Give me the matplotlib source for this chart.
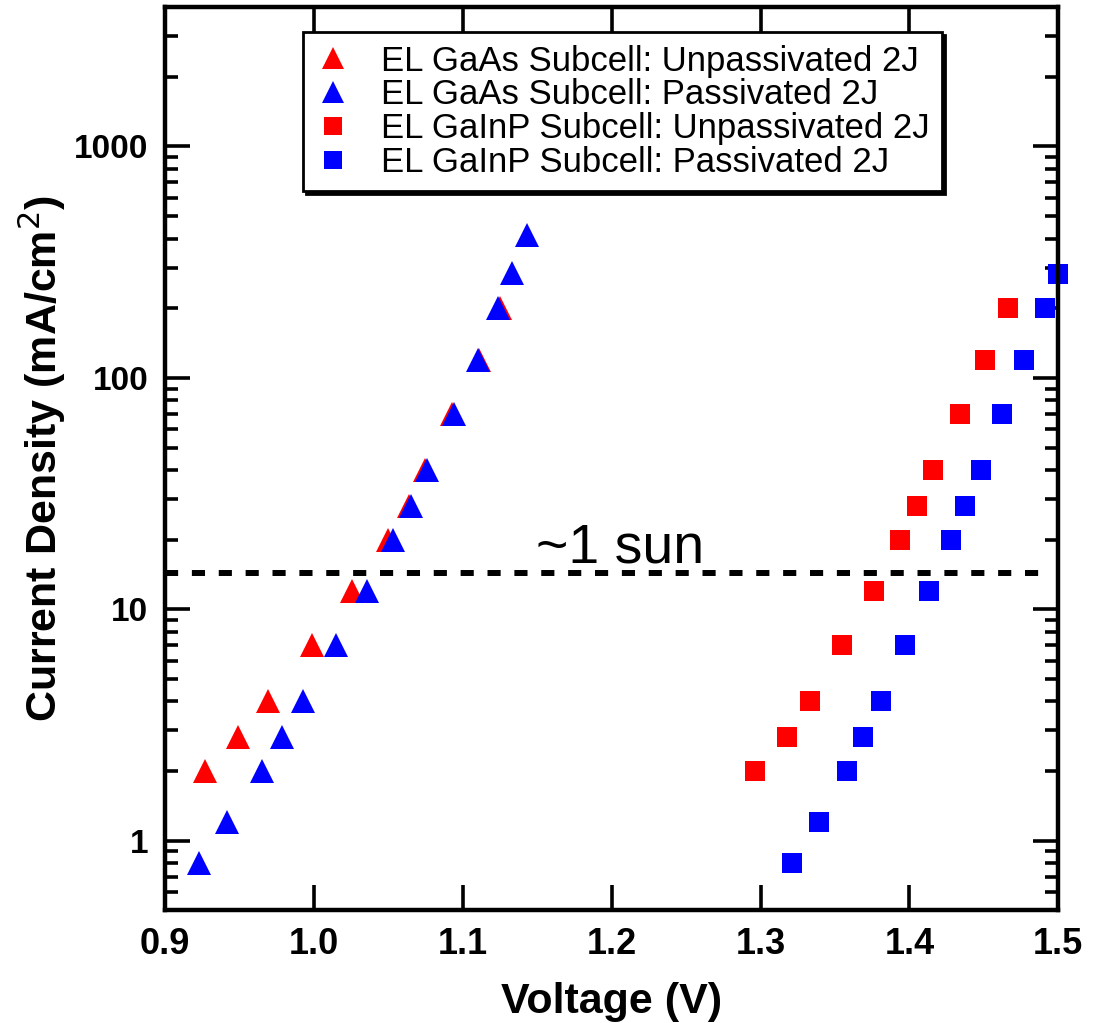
import matplotlib
matplotlib.use('Agg')
import matplotlib.pyplot as plt
from matplotlib.ticker import FixedLocator, LogLocator, NullFormatter, NullLocator
import numpy as np

plt.rcParams['font.family'] = ['Liberation Sans', 'DejaVu Sans']

# GaAs subcell EL (triangles)
gaas_unpass_v = [0.927, 0.949, 0.969, 0.999, 1.026, 1.050, 1.064, 1.075, 1.093, 1.111, 1.125]
gaas_unpass_j = [2.0, 2.8, 4.0, 7.0, 12.0, 20.0, 28.0, 40.0, 70.0, 120.0, 200.0]
gaas_pass_v = [0.923, 0.942, 0.965, 0.979, 0.993, 1.015, 1.036, 1.053, 1.065, 1.076,
               1.094, 1.110, 1.124, 1.133, 1.143]
gaas_pass_j = [0.8, 1.2, 2.0, 2.8, 4.0, 7.0, 12.0, 20.0, 28.0, 40.0,
               70.0, 120.0, 200.0, 285.0, 415.0]

# GaInP subcell EL (squares)
gainp_unpass_v = [1.296, 1.318, 1.333, 1.355, 1.376, 1.394, 1.405, 1.416, 1.434, 1.451, 1.466]
gainp_unpass_j = [2.0, 2.8, 4.0, 7.0, 12.0, 20.0, 28.0, 40.0, 70.0, 120.0, 200.0]
gainp_pass_v = [1.321, 1.339, 1.358, 1.369, 1.381, 1.397, 1.413, 1.428, 1.437, 1.448,
                1.462, 1.477, 1.491, 1.500]
gainp_pass_j = [0.8, 1.2, 2.0, 2.8, 4.0, 7.0, 12.0, 20.0, 28.0, 40.0,
                70.0, 120.0, 200.0, 280.0]

one_sun_j = 14.3
x_ticks = [0.9, 1.0, 1.1, 1.2, 1.3, 1.4, 1.5]
y_ticks = [1, 10, 100, 1000]

fig = plt.figure(figsize=(10.99, 10.23), dpi=100)
ax = fig.add_axes([0.150, 0.110, 0.813, 0.883])

ax.plot(gaas_unpass_v, gaas_unpass_j, '^', color='#ff0000', ms=17, mew=0, clip_on=False,
        label='EL GaAs Subcell: Unpassivated 2J')
ax.plot(gaas_pass_v, gaas_pass_j, '^', color='#0000ff', ms=17, mew=0, clip_on=False,
        label='EL GaAs Subcell: Passivated 2J')
ax.plot(gainp_unpass_v, gainp_unpass_j, 's', color='#ff0000', ms=15, mew=0, clip_on=False,
        label='EL GaInP Subcell: Unpassivated 2J')
ax.plot(gainp_pass_v, gainp_pass_j, 's', color='#0000ff', ms=15, mew=0, clip_on=False,
        label='EL GaInP Subcell: Passivated 2J')

ax.plot([0.9, 1.492], [one_sun_j, one_sun_j], color='black', lw=4.3,
        linestyle=(0, (2.2, 2.3)), dash_capstyle='butt')
ax.text(1.2055, 15.9, '~1 sun', fontsize=40, ha='center', va='baseline')

ax.set_yscale('log')
ax.set_xlim(0.9, 1.5)
ax.set_ylim(0.5, 4000)

ax.xaxis.set_major_locator(FixedLocator(x_ticks))
ax.xaxis.set_minor_locator(NullLocator())
ax.set_xticklabels([f'{t:.1f}' for t in x_ticks])
ax.yaxis.set_major_locator(FixedLocator(y_ticks))
ax.set_yticklabels([str(t) for t in y_ticks])
ax.yaxis.set_minor_locator(LogLocator(base=10, subs=np.arange(2, 10)))
ax.yaxis.set_minor_formatter(NullFormatter())

ax.tick_params(which='both', direction='in', top=True, right=True, width=2.6)
ax.tick_params(which='major', length=18, pad=12)
ax.tick_params(which='minor', length=9.5)
ax.tick_params(axis='x', labelsize=26)
ax.tick_params(axis='y', labelsize=24)
for lab in ax.get_xticklabels() + ax.get_yticklabels():
    lab.set_fontweight('bold')
for sp in ax.spines.values():
    sp.set_linewidth(3.2)

ax.set_xlabel('Voltage (V)', fontsize=31, fontweight='bold', labelpad=14)
ax.set_ylabel('Current Density (mA/cm$^2$)', fontsize=31, fontweight='bold', labelpad=4)

leg = ax.legend(loc='upper left', bbox_to_anchor=(0.155, 0.972), fontsize=25,
                frameon=True, fancybox=False, edgecolor='black',
                shadow={'color': 'black', 'alpha': 1.0},
                handlelength=1.0, handletextpad=0.9, labelspacing=0.02,
                borderpad=0.35, borderaxespad=0, markerscale=0.9)
leg.get_frame().set_linewidth(2)

fig.savefig('out.png', dpi=100)
